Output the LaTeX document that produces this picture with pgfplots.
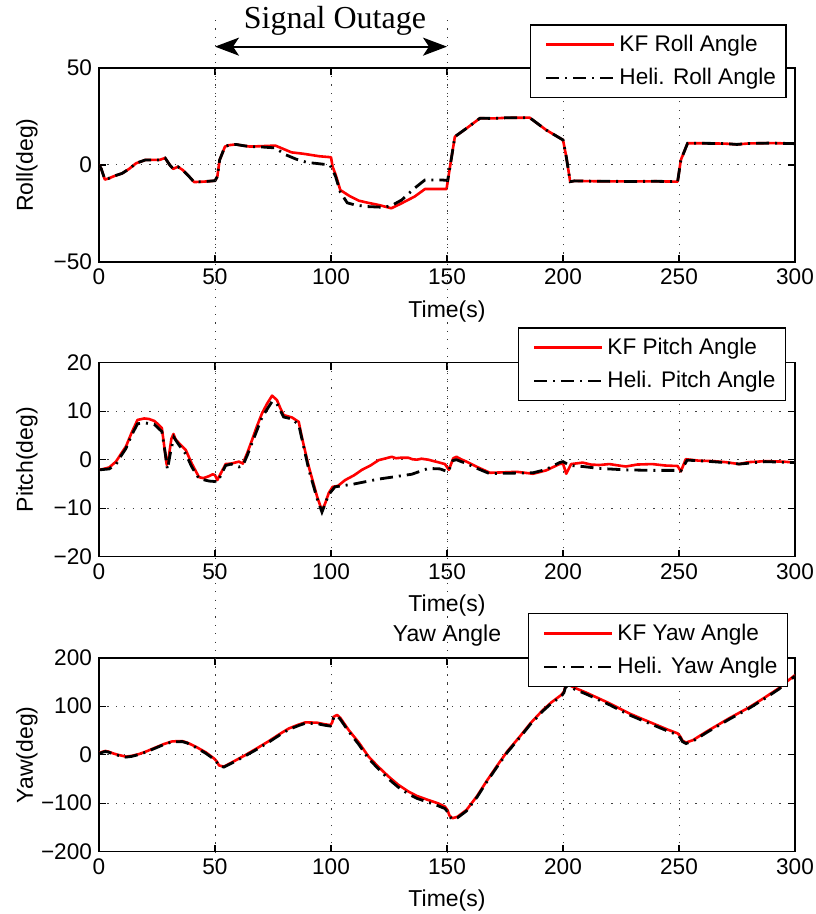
\documentclass[border=0pt]{standalone}
\usepackage{fontspec}
\setmainfont{Liberation Sans}
\newfontfamily\serifA{Liberation Serif}
\usepackage{pgfplots}
\pgfplotsset{compat=1.18}
\usetikzlibrary{arrows.meta}

\pgfplotsset{
 mystyle/.style={
  scale only axis, width=348pt, height=97pt,
  xmin=0, xmax=300, xtick={0,50,100,150,200,250,300},
  xticklabels={0,50,100,150,200,250,300},
  tick align=inside, tick pos=both, major tick length=3.5pt,
  grid=major, major grid style={black!75, line width=0.5pt, dash pattern=on 0.6pt off 3.6pt},
  axis line style={line width=0.8pt},
  every tick/.style={black, line width=0.6pt},
  ticklabel style={font=\fontsize{11.3}{13}\selectfont},
  label style={font=\fontsize{11.5}{13}\selectfont},
  xlabel={Time(s)},
  xlabel style={at={(axis description cs:0.5,-0.253)}, anchor=center},
  ylabel style={at={(axis description cs:-0.1034,0.5)}, anchor=center},
  legend style={draw=black, line width=0.6pt, font=\fontsize{11.3}{13}\selectfont,
     anchor=north east, inner xsep=3pt, inner ysep=3pt, row sep=3pt},
  legend cell align=left,
  legend image code/.code={\path (0pt,0pt); \draw[mark repeat=2,mark phase=2,##1] plot coordinates {(4pt,0pt) (21pt,0pt) (38pt,0pt)};},
 },
 kf/.style={red, line width=1.3pt, line join=round},
 heli/.style={black, line width=1.4pt, dash pattern=on 6.5pt off 3pt on 1pt off 3pt},
}

\begin{document}
\begin{tikzpicture}
\useasboundingbox (0,0) rectangle (407.5pt,457pt);

% ---------- Roll ----------
\begin{axis}[mystyle, at={(49.5pt,326pt)}, anchor=south west,
  ymin=-50, ymax=50, ytick={-50,0,50}, yticklabels={−50,0,50},
  ylabel={Roll(deg)},
  legend style={at={(axis description cs:0.988,1.225)}},
  legend entries={KF Roll Angle, Heli. Roll Angle}]
\addplot[kf] coordinates {
(0,0) (1,-2) (2.5,-7.5) (4,-7) (7,-5.5) (10,-4.3) (13,-2) (16,0.9) (20,2.6) (26,2.6) (28.5,3.6) (30.5,0) (32,-2) (34,-0.9) (36,-2.5) (38.5,-5.5) (41,-8.8) (45,-8.6) (50,-8.1) (51,-6) (52,2.6) (54.3,9.5) (56,10.2) (59,10.6) (62,10) (65,9.5) (70,9.7) (76,10) (80,8) (83,6.5) (88,5.8) (95,4.5) (100,4) (100.7,-0.9) (102,-5) (104,-12.9) (108,-16) (112,-18.4) (116,-19.5) (120.5,-20.6) (126,-22.3) (130,-20) (136,-16.3) (140.5,-12.4) (149.8,-12.4) (151.3,-0.9) (153.4,14.6) (158.4,18.9) (164.2,24.1) (170,24) (175,24.3) (185.6,24.4) (192.8,18) (200,12.9) (201.4,4.3) (203.1,-8.6) (205,-8.2) (215,-8.4) (230,-8.5) (240,-8.4) (249.4,-8.6) (250.8,2.6) (253.7,11.2) (260,11.2) (270,11) (275,10.6) (280,11.1) (290,11.3) (300,11)
};
\addplot[heli] coordinates {
(0,0) (1,-2) (2.5,-7.5) (4,-7) (7,-5.5) (10,-4.3) (13,-2) (16,0.9) (20,2.6) (26,2.6) (28.5,3.6) (30.5,0) (32,-2) (34,-0.9) (36,-2.5) (38.5,-5.5) (41,-8.8) (45,-8.6) (50,-8.1) (51,-6) (52,2.6) (54.3,9.5) (56,10.2) (59,10.6) (62,10) (65,9.5) (70,9.3) (76,8.8) (80,5.5) (85,3) (90,1.2) (93,0.9) (99.5,0) (100.5,-2) (102,-6) (104,-14) (107,-19.5) (110,-20.5) (115,-21.4) (122.5,-21.8) (126,-21) (130.5,-18) (136,-12) (140.5,-7.7) (147.7,-7.7) (150.3,-8) (151.3,-0.9) (153.4,14.6) (158.4,18.9) (164.2,24.1) (170,24) (175,24.3) (185.6,24.4) (192.8,18) (200,12.9) (201.4,4.3) (203.1,-8.6) (205,-8.2) (215,-8.4) (230,-8.5) (240,-8.4) (249.4,-8.6) (250.8,2.6) (253.7,11.2) (260,11.2) (270,11) (275,10.6) (280,11.1) (290,11.3) (300,11)
};
\coordinate (A1) at (axis cs:50,74.7);
\coordinate (B1) at (axis cs:150,74.7);
\coordinate (arL) at (axis cs:50,61);
\coordinate (arR) at (axis cs:150,61);
\coordinate (txt) at (axis cs:101.7,70.6);
\end{axis}

% ---------- Pitch ----------
\begin{axis}[mystyle, at={(49.5pt,178.65pt)}, anchor=south west,
  ymin=-20, ymax=20, ytick={-20,-10,0,10,20}, yticklabels={−20,−10,0,10,20},
  ylabel={Pitch(deg)},
  legend style={at={(axis description cs:0.987,1.182)}},
  legend entries={KF Pitch Angle, Heli. Pitch Angle}]
\addplot[kf] coordinates {
(0,-2.1) (2,-1.9) (4.4,-1.6) (7.3,-0.4) (9.5,1.2) (11.6,2.7) (14,5.5) (16.6,8.2) (19.5,8.5) (21.5,8.4) (23.8,8.0) (25.5,7.3) (27.1,6.5) (28.2,2.5) (29.2,-1.1) (30.2,1) (31.2,4.3) (32.1,5.3) (33,4.2) (34.5,3.4) (37.4,2) (40,-0.8) (43.1,-3.6) (45,-3.8) (47.4,-3.4) (49,-3) (50,-3.2) (51,-4.2) (52.5,-2.8) (54.6,-0.9) (57,-0.8) (60.3,-0.4) (62,-0.8) (64,1.5) (66,4.1) (68,6.8) (70.3,9.6) (72.5,11.6) (74.6,13.2) (76.7,12.3) (78,10.8) (79.6,9.2) (83.2,8.7) (86.1,7.8) (87.5,4.5) (90.4,-1.4) (94,-7.6) (96.1,-10.5) (97.5,-9) (99,-6.9) (100.7,-5.6) (103,-5.4) (106.1,-4.2) (110,-3.2) (113.3,-2.1) (117,-1.2) (120.5,-0.1) (123,0.2) (126.2,0.6) (128,0.3) (130,0.4) (133.4,0.4) (135,0.1) (137,0) (139,0.2) (141.9,0) (146,-0.5) (149.1,-0.9) (150.8,-2.1) (152.7,0.3) (154.1,0.6) (156,0.1) (158.4,-0.4) (163,-1.5) (168.5,-2.7) (175,-2.6) (180,-2.5) (187.1,-2.9) (192.8,-2.2) (198.5,-0.9) (200,-0.8) (201.4,-2.9) (203.5,-0.9) (208.5,-0.6) (212,-1.0) (215.6,-1.1) (220,-0.9) (224,-1.2) (227.1,-1.4) (232,-1.0) (238.5,-0.9) (244,-1.2) (249.4,-1.3) (250.8,-2.4) (252.9,0.1) (258.6,-0.2) (265,-0.3) (270,-0.5) (275.9,-0.9) (280,-0.5) (287.3,-0.3) (295,-0.4) (300,-0.6)
};
\addplot[heli] coordinates {
(0,-2.1) (4.4,-1.9) (7.3,-1) (9.5,0.8) (11.6,2.3) (14,5) (16.6,7.4) (19.5,7.6) (23.8,7.3) (27.1,5.8) (28.5,1.5) (29.5,-2) (31,2) (32.3,4.6) (34.5,3) (37.4,1.2) (40,-1.5) (43.1,-3.9) (47.4,-4.4) (50,-4.5) (51.2,-4.6) (52.5,-3.2) (54.6,-1.2) (57,-0.9) (60.3,-1.5) (62,-1.2) (64,1) (66,3.5) (70.3,8.8) (74.6,12) (76.7,11.5) (79.6,8.8) (83.2,8.4) (86.1,7.2) (90.4,-2) (94,-8) (96.1,-10.8) (99,-7.2) (101.7,-5.6) (110,-5) (120.5,-4) (134.8,-3) (141.9,-1.8) (147,-1.9) (150.5,-2.5) (152.5,-0.2) (154,0) (158.4,-0.8) (163,-1.8) (168.5,-2.9) (175,-2.8) (187.1,-2.7) (192.8,-2.0) (198.5,-0.6) (200,-0.4) (203,-1.2) (208.5,-1.4) (215.6,-1.8) (227.1,-2.1) (238.5,-2.2) (249.4,-2.2) (250.8,-2.3) (253.5,-0.1) (258.6,-0.2) (270,-0.6) (276,-0.9) (287.3,-0.4) (300,-0.6)
};
\end{axis}

% ---------- Yaw ----------
\begin{axis}[mystyle, at={(49.5pt,31.15pt)}, anchor=south west,
  ymin=-200, ymax=200, ytick={-200,-100,0,100,200}, yticklabels={−200,−100,0,100,200},
  ylabel={Yaw(deg)},
  title={Yaw Angle}, title style={font=\fontsize{11.5}{13}\selectfont, yshift=-4pt},
  legend style={at={(axis description cs:0.990,1.229)}},
  legend entries={KF Yaw Angle, Heli. Yaw Angle}]
\addplot[kf] coordinates {
(0,3) (1.5,6) (2.7,7.6) (4,6.5) (5.9,3) (8,0) (11.6,-4) (14,-2.5) (17.3,1.4) (20,6) (24.5,15) (28,22) (31.6,27.5) (35.9,28) (38,25) (41.7,16.5) (46,5) (49.5,-7.5) (50.8,-14) (51.7,-22) (53.8,-24.7) (58,-14) (63.2,-0.5) (68,13) (73.2,28) (78,43) (81.8,54) (86,62) (89,66.7) (94,66) (97,63) (99.7,61) (100.5,66) (101.1,78) (102.6,82) (104,76) (107.6,51) (112,25) (116.2,-4) (120,-23) (124.8,-45) (129,-62) (133.4,-76) (137,-85) (141.9,-93.4) (146,-100) (149.1,-107) (150.3,-115) (151,-125) (152.3,-131) (154.5,-128) (158.4,-114) (163,-85) (167,-55) (171.3,-24.7) (176,7) (181.3,37) (186,65) (191.3,92) (195,108) (199.2,123) (200.4,130) (201,140) (202,145) (205,138) (210,128) (220,106) (228.6,85) (235,72) (240,62) (245,52) (249.4,44) (250.5,38) (251.5,29) (253,25) (256,30) (262,48) (271.6,75) (280,97) (287,118) (293,137) (296,149) (300,164)
};
\addplot[heli] coordinates {
(0,2) (1.5,5) (2.7,6.5) (4,5.5) (5.9,2) (8,-1) (11.6,-5) (14,-3.5) (17.3,0.5) (20,5) (24.5,14) (28,21) (31.6,26.5) (35.9,27) (38,24) (41.7,15) (46,3) (49.5,-9) (50.8,-16) (51.7,-23) (53.8,-25.5) (58,-15.5) (63.2,-2) (68,11) (73.2,26) (78,41) (81.8,52) (86,60) (89,65) (94,64) (97,61) (99.7,59) (100.5,64) (101.1,76) (102.6,80) (104,73) (107.6,48) (112,21) (116.2,-8) (120,-27) (124.8,-50) (129,-67) (133.4,-81) (137,-90) (141.9,-98) (146,-105) (149.1,-111) (150.3,-118) (151,-127) (152.3,-133) (154.5,-130) (158.4,-116) (163,-87) (167,-57) (171.3,-27) (176,5) (181.3,35) (186,63) (191.3,90) (195,106) (199.2,120) (200.4,128) (201,138) (202,143) (205,135) (210,125) (220,103) (228.6,82) (235,69) (240,59) (245,49) (249.4,41) (250.5,35) (251.5,27) (253,23) (256,28) (262,46) (271.6,73) (280,95) (287,116) (293,135) (296,147) (300,162)
};
\coordinate (A3) at (axis cs:50,-229.5);
\coordinate (B3) at (axis cs:150,-229.5);
\end{axis}

% ---------- annotations ----------
\draw[black!80, line width=0.5pt, dash pattern=on 0.6pt off 3.6pt] (A1) -- (A3);
\draw[black!80, line width=0.5pt, dash pattern=on 0.6pt off 3.6pt] (B1) -- (B3);
\draw[line width=1pt, {Stealth[length=12pt,width=9pt,inset=3pt]}-{Stealth[length=12pt,width=9pt,inset=3pt]}] (arL) -- (arR);
\node[anchor=base, font=\serifA\fontsize{16}{18}\selectfont, inner sep=0pt] at (txt) {Signal Outage};
\end{tikzpicture}
\end{document}
